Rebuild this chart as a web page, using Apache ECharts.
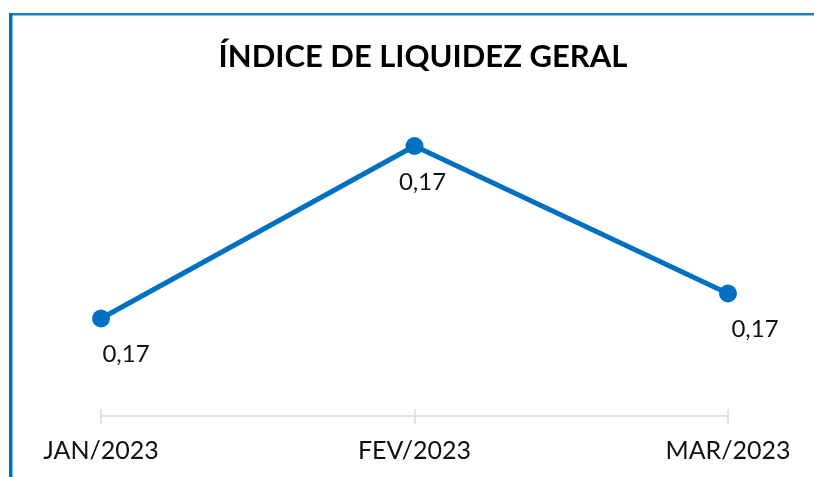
<!DOCTYPE html>
<html>
<head>
<meta charset="utf-8">
<script src="https://cdn.jsdelivr.net/npm/echarts@6/dist/echarts.min.js"></script>
<style>
html,body{margin:0;padding:0;background:#fff;}
#chart{width:814px;height:477px;}
</style>
</head>
<body>
<div id="chart"></div>
<script>
const titleText = 'ÍNDICE DE LIQUIDEZ GERAL';
const categories = ['JAN/2023', 'FEV/2023', 'MAR/2023'];
const values = [0.1669, 0.1738, 0.1679];

const labelOffsets = [[25, 0], [8, 0], [27, 0]];
const FONT = 'Lato, "Open Sans", sans-serif';

const chart = echarts.init(document.getElementById('chart'));
chart.setOption({
  backgroundColor: '#fff',
  animation: false,
  title: {
    text: titleText,
    left: 418,
    textAlign: 'center',
    top: 36,
    textStyle: { fontFamily: FONT, fontWeight: 'bold', fontSize: 31, color: '#000' }
  },
  graphic: [
    { type: 'rect', shape: { x: 9, y: 13, width: 805, height: 2.5 }, style: { fill: '#1a7fd0' } },
    { type: 'rect', shape: { x: 9, y: 13, width: 3.5, height: 464 }, style: { fill: '#0070c0' } }
  ],
  grid: { left: 101, right: 86, top: 66, bottom: 61, containLabel: false },
  xAxis: [
    {
      type: 'category',
      data: categories,
      boundaryGap: false,
      axisLine: { show: true, lineStyle: { color: '#d9d9d9', width: 1.5 } },
      axisTick: { show: true, length: 8, lineStyle: { color: '#d9d9d9', width: 1.5 } },
      axisLabel: { margin: 22, fontFamily: FONT, fontSize: 25, color: '#111' }
    },
    {
      type: 'category',
      data: categories,
      boundaryGap: false,
      position: 'bottom',
      axisLine: { show: false },
      axisTick: { show: true, inside: true, length: 7, lineStyle: { color: '#d9d9d9', width: 1.5 } },
      axisLabel: { show: false }
    }
  ],
  yAxis: {
    type: 'value',
    min: 0.163,
    max: 0.177,
    show: false,
    splitLine: { show: false }
  },
  series: [{
    type: 'line',
    xAxisIndex: 0,
    data: values.map((v, i) => ({
      value: v,
      label: { offset: labelOffsets[i] }
    })),
    symbol: 'circle',
    symbolSize: 18,
    lineStyle: { color: '#0070c0', width: 5 },
    itemStyle: { color: '#0070c0' },
    label: {
      show: true,
      position: 'bottom',
      distance: 15,
      fontFamily: FONT,
      fontSize: 24,
      color: '#111',
      formatter: p => p.value.toFixed(2).replace('.', ',')
    }
  }]
});
</script>
</body>
</html>
